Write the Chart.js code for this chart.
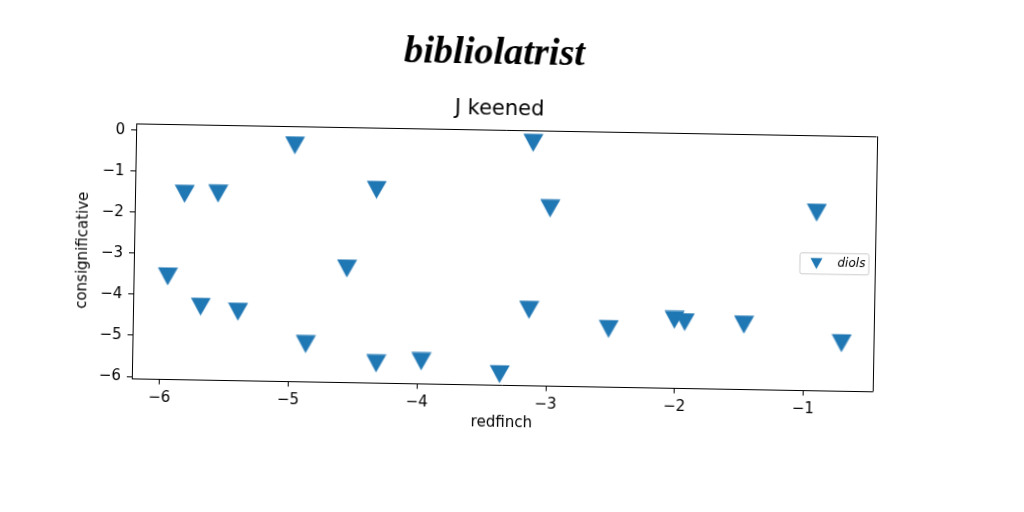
<!DOCTYPE html>
<html><head><meta charset="utf-8">
<script src="https://cdn.jsdelivr.net/npm/chart.js@4.4.0/dist/chart.umd.min.js"></script>
<style>
html,body{margin:0;padding:0;background:#fff;overflow:hidden;width:1024px;height:512px}
#wrap{width:1024px;height:512px;transform:rotate(1deg);transform-origin:512px 256px}
canvas{display:block}
</style></head><body><div id="wrap"><canvas id="c" width="1024" height="512"></canvas></div>
<script>
const chartTitle = 'bibliolatrist';
const axesTitle = 'J keened';
const seriesName = 'diols';
const xLabel = 'redfinch';
const yLabel = 'consignificative';
const xValues = [-5.95,-5.83,-5.69,-5.57,-5.40,-4.98,-4.87,-4.56,-4.34,-4.32,-3.97,-3.36,-3.13,-3.14,-2.99,-2.52,-2.01,-1.93,-1.47,-0.92,-0.71];
const yValues = [-3.55,-1.53,-4.27,-1.51,-4.38,-0.30,-5.14,-3.28,-1.35,-5.58,-5.51,-5.79,-0.14,-4.21,-1.73,-4.64,-4.39,-4.44,-4.48,-1.72,-4.89];
const xTicks = [-6,-5,-4,-3,-2,-1];
const yTicks = [0,-1,-2,-3,-4,-5,-6];

const BLUE = '#1f77b4';
function makeMarker(w, h){
  const c = document.createElement('canvas');
  c.width = w; c.height = h;
  const g = c.getContext('2d');
  g.fillStyle = BLUE;
  g.beginPath();
  g.moveTo(0.5, 0.5); g.lineTo(w-0.5, 0.5); g.lineTo(w/2, h-0.5); g.closePath();
  g.fill();
  return c;
}
const marker = makeMarker(21, 19);
const fmt = v => String(v).replace('-', '\u2212');

const decor = {
  id: 'decor',
  afterDraw(chart){
    const ctx = chart.ctx, ca = chart.chartArea;
    ctx.save();
    ctx.strokeStyle = '#000'; ctx.lineWidth = 1;
    ctx.beginPath();
    ctx.moveTo(ca.left, Math.round(ca.top)+0.5); ctx.lineTo(ca.right, Math.round(ca.top)+0.5);
    ctx.moveTo(Math.round(ca.right)+0.5, ca.top); ctx.lineTo(Math.round(ca.right)+0.5, ca.bottom);
    ctx.stroke();
    ctx.fillStyle = '#000';
    ctx.textAlign = 'center'; ctx.textBaseline = 'alphabetic';
    let fs = 30;
    ctx.font = 'italic bold ' + fs + 'px "Liberation Serif"';
    const w = ctx.measureText(chartTitle).width;
    fs = fs * 181 / w;
    ctx.font = 'italic bold ' + fs.toFixed(1) + 'px "Liberation Serif"';
    ctx.fillText(chartTitle, 491, 64);
    ctx.font = '21px "DejaVu Sans"';
    ctx.fillText(axesTitle, 497, 115);
    const bw = 69, bh = 21;
    const bx = ca.right - 6 - bw, by = (ca.top + ca.bottom)/2 - bh/2;
    ctx.fillStyle = 'rgba(255,255,255,0.8)';
    ctx.strokeStyle = '#cccccc';
    ctx.beginPath();
    ctx.roundRect(bx+0.5, by+0.5, bw, bh, 2);
    ctx.fill(); ctx.stroke();
    const mx = bx + 17, my = by + bh/2;
    ctx.fillStyle = BLUE;
    ctx.beginPath();
    ctx.moveTo(mx-6, my-5); ctx.lineTo(mx+6, my-5); ctx.lineTo(mx, my+6); ctx.closePath();
    ctx.fill();
    ctx.fillStyle = '#000';
    ctx.textAlign = 'left'; ctx.textBaseline = 'middle';
    ctx.font = 'italic 12px "DejaVu Sans"';
    ctx.fillText(chart.data.datasets[0].label, bx + 38, my);
    ctx.restore();
  }
};

new Chart(document.getElementById('c'), {
  type: 'scatter',
  data: { datasets: [{
    label: seriesName,
    data: xValues.map((x, i) => ({x: x, y: yValues[i]})),
    pointStyle: marker,
    pointRadius: 10,
    backgroundColor: BLUE,
    borderColor: BLUE,
    showLine: false
  }]},
  options: {
    responsive: false,
    animation: false,
    devicePixelRatio: 1,
    layout: { padding: { top: 130, right: 149.5, left: 0, bottom: 0 } },
    plugins: { legend: { display: false }, tooltip: { enabled: false }, title: { display: false } },
    scales: {
      x: {
        type: 'linear', min: -6.215, max: -0.465,
        afterBuildTicks: s => { s.ticks = xTicks.map(v => ({value: v})); },
        afterFit: s => { s.height = 126.5; },
        ticks: { callback: fmt, color: '#000', font: { family: 'DejaVu Sans', size: 15 }, padding: 5, autoSkip: false, maxRotation: 0 },
        grid: { display: true, drawOnChartArea: false, drawTicks: true, tickLength: 5, color: '#000' },
        border: { display: true, color: '#000', width: 1 },
        title: { display: true, text: xLabel, color: '#000', font: { family: 'DejaVu Sans', size: 15 }, padding: { top: 0, bottom: 80 } }
      },
      y: {
        type: 'linear', min: -6.06, max: 0.165,
        afterBuildTicks: s => { s.ticks = yTicks.map(v => ({value: v})); },
        afterFit: s => { s.width = 134; },
        ticks: { callback: fmt, color: '#000', font: { family: 'DejaVu Sans', size: 15 }, padding: 6, autoSkip: false },
        grid: { display: true, drawOnChartArea: false, drawTicks: true, tickLength: 5, color: '#000' },
        border: { display: true, color: '#000', width: 1 },
        title: { display: true, text: yLabel, color: '#000', font: { family: 'DejaVu Sans', size: 15 }, padding: { top: 74, bottom: 0 } }
      }
    }
  },
  plugins: [decor]
});
</script></body></html>
